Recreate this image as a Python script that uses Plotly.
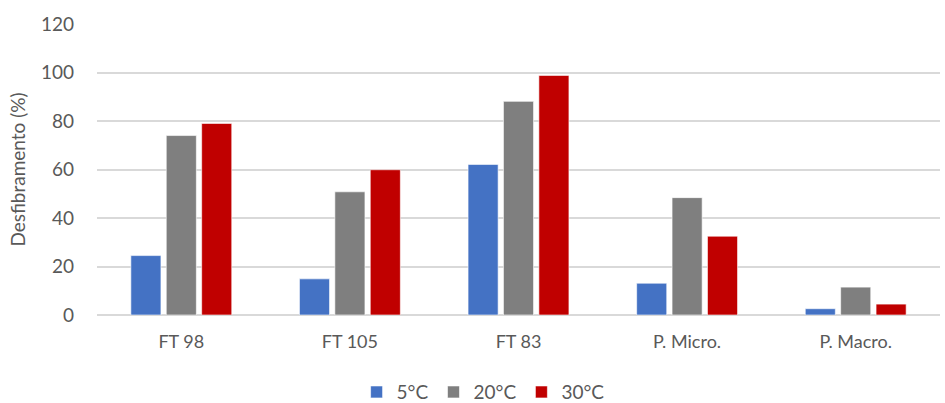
import plotly.graph_objects as go

# Sample groups and temperature series
categories = ["FT 98", "FT 105", "FT 83", "P. Micro.", "P. Macro."]
series_names = ["5°C", "20°C", "30°C"]
values_5c = [24.5, 14.9, 62.1, 13.1, 2.6]
values_20c = [74.0, 50.8, 88.1, 48.4, 11.5]
values_30c = [79.0, 59.9, 98.8, 32.5, 4.5]
colors = ["#4472C4", "#7F7F7F", "#C00000"]
y_ticks = [0, 20, 40, 60, 80, 100, 120]

fig = go.Figure()
for name, vals, col in zip(series_names, [values_5c, values_20c, values_30c], colors):
    fig.add_trace(go.Bar(
        x=categories, y=vals, name=name,
        marker=dict(color=col, line=dict(color="rgba(255,255,255,0.6)", width=1)),
    ))

text_color = "#595959"
fig.update_layout(
    width=945, height=403,
    margin=dict(l=97, r=5, t=24, b=88, autoexpand=False),
    paper_bgcolor="white", plot_bgcolor="white",
    font=dict(family="Lato, Carlito, sans-serif", size=18, color=text_color),
    barmode="group", bargap=0.37, bargroupgap=0.15,
    showlegend=True,
    legend=dict(orientation="h", x=0.458, xanchor="center", y=-0.265, yanchor="middle",
                font=dict(size=19, color=text_color), itemwidth=30, traceorder="normal"),
    xaxis=dict(showgrid=False, showline=False, ticks="", tickfont=dict(size=18),
               ticklabelstandoff=14),
    yaxis=dict(range=[0, 120], tickvals=y_ticks, showgrid=True, gridcolor="#D9D9D9",
               gridwidth=1.5, zeroline=True, zerolinecolor="#D9D9D9", zerolinewidth=1.5,
               showline=False, ticks="", tickfont=dict(size=19), ticklabelstandoff=22,
               title=dict(text="Desfibramento (%)", font=dict(size=19, color=text_color),
                          standoff=10)),
)

fig.write_html("out.html")
